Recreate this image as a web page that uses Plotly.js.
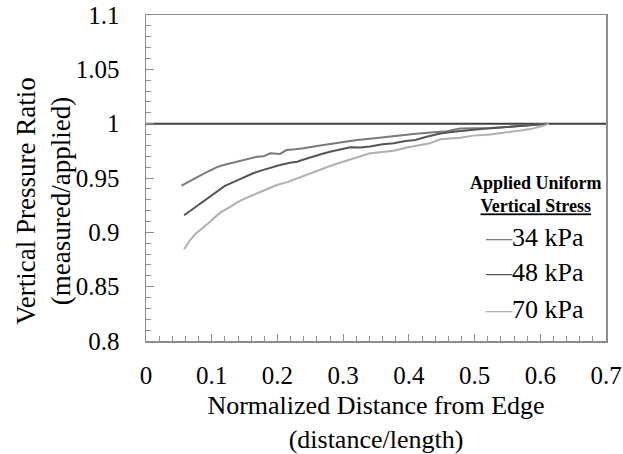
<!DOCTYPE html>
<html>
<head>
<meta charset="utf-8">
<script src="https://cdn.plot.ly/plotly-3.0.1.min.js"></script>
<style>
  html, body { margin: 0; padding: 0; background: #fff; }
  #chart { width: 623px; height: 454px; }
</style>
</head>
<body>
<div id="chart"></div>
<script>
// ---- Data ----
const seriesNames = ['34 kPa', '48 kPa', '70 kPa'];

const x34 = [0.054, 0.066, 0.077, 0.088, 0.098, 0.108, 0.118, 0.128, 0.138, 0.148, 0.158, 0.168, 0.179, 0.189, 0.204, 0.214, 0.227, 0.240, 0.260, 0.280, 0.300, 0.321, 0.341, 0.367, 0.387, 0.407, 0.438, 0.458, 0.478, 0.498, 0.524, 0.549, 0.575, 0.600, 0.612];
const y34 = [0.943, 0.947, 0.951, 0.954, 0.957, 0.960, 0.962, 0.9635, 0.965, 0.9665, 0.968, 0.9695, 0.970, 0.9727, 0.9722, 0.9758, 0.9765, 0.9774, 0.9795, 0.9813, 0.9834, 0.985, 0.9862, 0.988, 0.989, 0.9905, 0.992, 0.993, 0.9955, 0.9955, 0.996, 0.997, 0.998, 0.999, 1.0];

const x48 = [0.058, 0.068, 0.077, 0.088, 0.098, 0.110, 0.120, 0.132, 0.143, 0.153, 0.163, 0.176, 0.189, 0.204, 0.219, 0.230, 0.240, 0.250, 0.260, 0.270, 0.280, 0.295, 0.311, 0.326, 0.341, 0.360, 0.377, 0.395, 0.410, 0.427, 0.448, 0.468, 0.488, 0.510, 0.530, 0.550, 0.575, 0.600, 0.612];
const y48 = [0.9157, 0.920, 0.9243, 0.929, 0.9335, 0.938, 0.9427, 0.946, 0.9488, 0.952, 0.9544, 0.957, 0.9595, 0.962, 0.964, 0.965, 0.967, 0.969, 0.971, 0.9725, 0.9742, 0.976, 0.9782, 0.978, 0.979, 0.981, 0.982, 0.984, 0.985, 0.988, 0.991, 0.9925, 0.994, 0.995, 0.996, 0.997, 0.998, 0.999, 1.0];

const x70 = [0.058, 0.066, 0.075, 0.085, 0.095, 0.105, 0.115, 0.127, 0.138, 0.150, 0.163, 0.176, 0.189, 0.199, 0.214, 0.227, 0.240, 0.260, 0.280, 0.295, 0.311, 0.326, 0.341, 0.360, 0.377, 0.397, 0.417, 0.432, 0.448, 0.463, 0.478, 0.498, 0.524, 0.549, 0.570, 0.585, 0.605, 0.613];
const y70 = [0.8844, 0.892, 0.8985, 0.903, 0.9083, 0.914, 0.919, 0.923, 0.9273, 0.931, 0.9344, 0.9375, 0.941, 0.9435, 0.946, 0.949, 0.952, 0.957, 0.961, 0.964, 0.967, 0.970, 0.9727, 0.974, 0.975, 0.978, 0.980, 0.982, 0.9856, 0.9865, 0.987, 0.989, 0.990, 0.992, 0.9935, 0.995, 0.998, 1.0];

// reference line (ratio = 1)
const refX = [0, 0.7];
const refY = [1, 1];

// tick labels
const xTickVals = [0, 0.1, 0.2, 0.3, 0.4, 0.5, 0.6, 0.7];
const xTickText = ['0', '0.1', '0.2', '0.3', '0.4', '0.5', '0.6', '0.7'];
const yTickVals = [0.8, 0.85, 0.9, 0.95, 1, 1.05, 1.1];
const yTickText = ['0.8', '0.85', '0.9', '0.95', '1', '1.05', '1.1'];

// ---- Styling ----
const FONT = '"Liberation Serif", "Times New Roman", Times, serif';
const colors = ['#7a7a7a', '#555555', '#b0b0b0'];
const axisColor = '#8c8c8c';

const xs = [x34, x48, x70];
const ys = [y34, y48, y70];

const traces = [{
  x: refX, y: refY, type: 'scatter', mode: 'lines',
  line: { color: '#404040', width: 2 }, showlegend: false, hoverinfo: 'skip'
}];
for (let i = 0; i < seriesNames.length; i++) {
  traces.push({
    x: xs[i], y: ys[i], name: seriesNames[i], type: 'scatter', mode: 'lines',
    line: { color: colors[i], width: 2 }, showlegend: false
  });
}

// legend built as annotations (short dash + label)
const legendY = [0.319, 0.209, 0.098];
const annotations = [{
  text: 'Applied Uniform<br><u>Vertical Stress</u>',
  xref: 'paper', yref: 'paper', x: 0.848, y: 0.449,
  xanchor: 'center', yanchor: 'middle', showarrow: false,
  font: { family: FONT, size: 18, color: '#000', weight: 'bold' }
}, {
  text: 'Vertical Pressure Ratio<br>(measured/applied)',
  xref: 'paper', yref: 'paper', x: -0.222, y: 0.43, textangle: -90,
  xanchor: 'center', yanchor: 'middle', showarrow: false,
  font: { family: FONT, size: 27, color: '#000' }
}];
for (let i = 0; i < seriesNames.length; i++) {
  annotations.push({
    text: '<span style="color:' + colors[i] + '">—</span>' + seriesNames[i],
    xref: 'paper', yref: 'paper', x: 0.844, y: legendY[i],
    xanchor: 'center', yanchor: 'middle', showarrow: false,
    font: { family: FONT, size: 26, color: '#000' }
  });
}

const layout = {
  width: 623, height: 454,
  margin: { l: 146, r: 17, t: 15, b: 113 },
  paper_bgcolor: '#fff', plot_bgcolor: '#fff',
  font: { family: FONT, color: '#000' },
  showlegend: false,
  xaxis: {
    range: [0, 0.7], tickmode: 'array', tickvals: xTickVals, ticktext: xTickText,
    ticks: 'inside', ticklen: 7, tickwidth: 1, tickcolor: axisColor,
    minor: { tickmode: 'linear', tick0: 0, dtick: 0.02, ticks: 'inside', ticklen: 5, tickcolor: axisColor, showgrid: false },
    showline: true, linecolor: axisColor, linewidth: 1.5, mirror: true,
    showgrid: false, zeroline: false,
    tickfont: { family: FONT, size: 25, color: '#000' },
    ticklabelstandoff: 11,
    title: { text: 'Normalized Distance from Edge<br>(distance/length)', font: { family: FONT, size: 26, color: '#000' }, standoff: 12 },
    automargin: false
  },
  yaxis: {
    range: [0.8, 1.1], tickmode: 'array', tickvals: yTickVals, ticktext: yTickText,
    ticks: 'inside', ticklen: 8, tickwidth: 1, tickcolor: axisColor,
    minor: { tickmode: 'linear', tick0: 0.8, dtick: 0.01, ticks: 'inside', ticklen: 5, tickcolor: axisColor, showgrid: false },
    showline: true, linecolor: axisColor, linewidth: 1.5, mirror: true,
    showgrid: false, zeroline: false,
    tickfont: { family: FONT, size: 25, color: '#000' },
    ticklabelstandoff: 20,
    automargin: false
  },
  annotations: annotations
};

Plotly.newPlot('chart', traces, layout, { staticPlot: true, displayModeBar: false });
</script>
</body>
</html>
